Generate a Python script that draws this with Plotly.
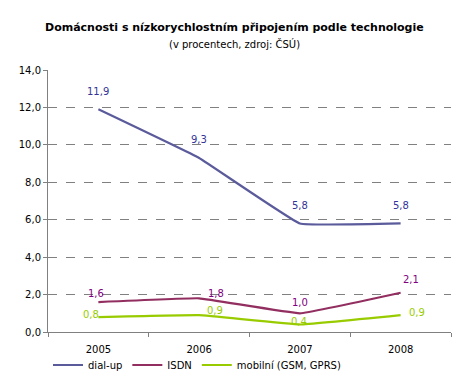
import plotly.graph_objects as go

years = ["2005", "2006", "2007", "2008"]
dialup = [11.9, 9.3, 5.8, 5.8]
isdn = [1.6, 1.8, 1.0, 2.1]
mobil = [0.8, 0.9, 0.4, 0.9]
y_ticks = [0, 2, 4, 6, 8, 10, 12, 14]

FONT = "DejaVu Sans, Verdana, sans-serif"

series = [
    ("dial-up", dialup, "#5B5B9C", "#333399",
     [(0, 18), (0, 18), (0, 18), (0, 18)]),
    ("ISDN", isdn, "#922F60", "#800080",
     [(-2, 9), (17, 5), (0, 11), (10, 13)]),
    ("mobilní (GSM, GPRS)", mobil, "#99CC00", "#99CC00",
     [(-7, 3), (16, 5), (-1, 3), (16, 3)]),
]

fig = go.Figure()
annotations = []
for name, vals, lc, tc, offs in series:
    fig.add_trace(go.Scatter(
        x=years, y=vals, name=name, mode="lines",
        line=dict(color=lc, width=2.2, shape="spline", smoothing=0.22),
        hoverinfo="skip"))
    for i, (yv, (dx, dy)) in enumerate(zip(vals, offs)):
        annotations.append(dict(
            x=i, y=yv, xref="x", yref="y", text=f"{yv:.1f}".replace(".", ","),
            showarrow=False, xshift=dx, yshift=dy,
            font=dict(family=FONT, size=10, color=tc)))

annotations.append(dict(
    x=0.462, y=1.195, xref="paper", yref="paper", showarrow=False,
    text="<b>Domácnosti s nízkorychlostním připojením podle technologie</b>",
    font=dict(family=FONT, size=11, color="#000000")))
annotations.append(dict(
    x=0.462, y=1.13, xref="paper", yref="paper", showarrow=False,
    text="(v procentech, zdroj: ČSÚ)",
    font=dict(family=FONT, size=10, color="#000000")))

fig.update_layout(
    width=470, height=385,
    margin=dict(l=48, r=19, t=70, b=53, autoexpand=False),
    paper_bgcolor="white", plot_bgcolor="white",
    separators=", ",
    font=dict(family=FONT, size=10, color="#000000"),
    showlegend=True,
    legend=dict(orientation="h", x=0.0, xanchor="left",
                yref="container", y=0.052, yanchor="middle",
                bgcolor="rgba(0,0,0,0)",
                font=dict(size=10), itemwidth=30, tracegroupgap=0),
    annotations=annotations,
    xaxis=dict(type="category", tickson="boundaries", ticks="outside",
               ticklen=4, tickcolor="#808080", showline=True,
               linecolor="#808080", linewidth=1, showgrid=False,
               range=[-0.5, 3.5], tickfont=dict(size=10), zeroline=False,
               ticklabelstandoff=8, automargin=False),
    yaxis=dict(range=[0, 14], tickvals=y_ticks, tickformat=".1f",
               ticks="outside", ticklen=4, tickcolor="#808080",
               showline=True, linecolor="#808080", linewidth=1,
               showgrid=True, gridcolor="#808080", griddash="dash",
               gridwidth=1, zeroline=False, tickfont=dict(size=10),
               automargin=False),
)

fig.write_html("out.html", config={"displayModeBar": False},
               post_script="document.body.style.margin='0';")
